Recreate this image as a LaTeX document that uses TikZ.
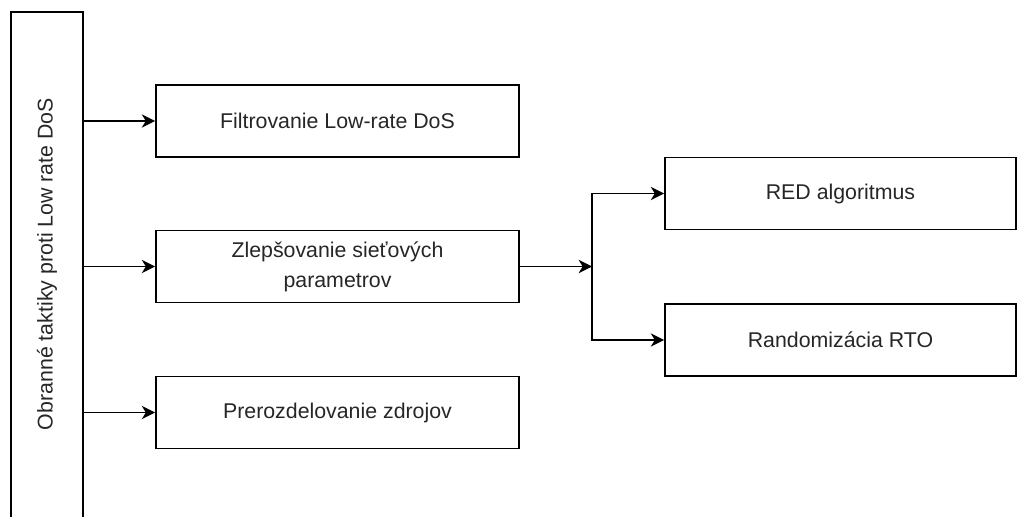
\documentclass[tikz,border=0pt]{standalone}
\usepackage{fontspec}
\setmainfont{Liberation Sans}
\usetikzlibrary{arrows.meta}
\begin{document}
\begin{tikzpicture}[x=0.75pt,y=-0.75pt,
  box/.style={draw=black,line width=1.3pt,minimum width=272.25pt,minimum height=54pt,inner sep=0pt,
    align=center,font=\fontsize{16}{22.5}\selectfont,text=black!85},
  rbox/.style={box,minimum width=263.25pt},
  arr/.style={line width=1.3pt,-{Stealth[length=10pt,width=10pt,inset=3pt]}},
  ln/.style={line width=1.3pt}]
\useasboundingbox (0,0) rectangle (1017,517);
\node[draw=black,line width=1.3pt,minimum width=54pt,minimum height=381pt,inner sep=0pt] (left) at (47,266) {};
\node[rotate=90,font=\fontsize{16}{19}\selectfont,text=black!85] (lefttxt) at (47,264) {Obranné taktiky proti Low rate DoS};
\node[box] (b1) at (337.5,121) {Filtrovanie Low-rate DoS};
\node[box] (b2) at (337.5,266.5) {Zlepšovanie sieťových\\parametrov};
\node[box] (b3) at (337.5,412.5) {Prerozdelovanie zdrojov};
\node[rbox] (red) at (840.5,193.5) {RED algoritmus};
\node[rbox] (rto) at (840.5,340) {Randomizácia RTO};
\coordinate (j) at (592,266.5);
\draw[arr] (left.east |- b1.west) -- (b1.west);
\draw[arr] (left.east |- b2.west) -- (b2.west);
\draw[arr] (left.east |- b3.west) -- (b3.west);
\draw[arr] (b2.east) -- (j);
\draw[arr] (j) |- (red.west);
\draw[arr] (j) |- (rto.west);
\end{tikzpicture}
\end{document}
